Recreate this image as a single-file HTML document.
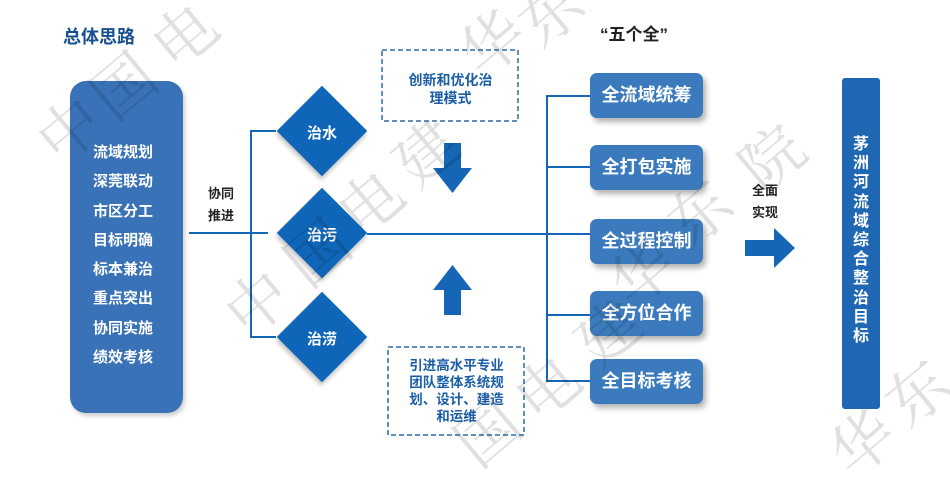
<!DOCTYPE html>
<html><head><meta charset="utf-8"><style>
body{margin:0;width:950px;height:462px;background:#fff;position:relative;overflow:hidden;font-family:"Liberation Sans","Noto Sans CJK SC",sans-serif;font-weight:bold}
.a{position:absolute}
.t{position:absolute;white-space:nowrap}
.rb{position:absolute;left:590px;width:113px;height:45px;background:#3b7bbd;border-radius:7px;color:#fff;font-size:18px;line-height:45px;text-align:center;box-shadow:3px 4px 6px rgba(0,0,0,0.3)}
.d{position:absolute;width:64px;height:64px;background:#0f66b8;transform:rotate(45deg);box-shadow:2px 3px 5px rgba(0,0,0,0.25)}
.dl{position:absolute;width:80px;text-align:center;color:#fff;font-size:15px}
.w{position:absolute;font-size:62px;font-weight:normal;color:rgba(0,0,0,0.12);transform:translate(-50%,-50%) rotate(-40deg);font-family:"Noto Serif CJK SC",serif;z-index:5;line-height:1}
</style></head><body>
<div class="t" style="left:63px;top:23px;font-size:18px;color:#17508f">总体思路</div>
<div class="t" style="left:600px;top:20px;font-size:17px;color:#222">“五个全”</div>

<div class="a" style="left:70px;top:81px;width:113px;height:332px;background:#3a72b8;border-radius:16px;box-shadow:2px 3px 5px rgba(0,0,0,0.2)"></div>
<div class="t" style="left:93px;top:138px;color:#fff;font-size:15px;line-height:29.3px">流域规划<br>深莞联动<br>市区分工<br>目标明确<br>标本兼治<br>重点突出<br>协同实施<br>绩效考核</div>

<div class="t" style="left:208px;top:183px;font-size:13px;line-height:22px;color:#222">协同<br>推进</div>

<svg class="a" style="left:0;top:0" width="950" height="462">
<g stroke="#1567b5" stroke-width="2" fill="none">
<line x1="189" y1="233" x2="268" y2="233"/>
<line x1="251" y1="131" x2="251" y2="337"/>
<line x1="250" y1="131" x2="276" y2="131"/>
<line x1="250" y1="337" x2="276" y2="337"/>
<line x1="367" y1="234" x2="590" y2="234"/>
<line x1="547" y1="96" x2="547" y2="382"/>
<line x1="546" y1="96" x2="590" y2="96"/>
<line x1="546" y1="167" x2="590" y2="167"/>
<line x1="546" y1="315" x2="590" y2="315"/>
<line x1="546" y1="381" x2="590" y2="381"/>
</g>
<g stroke="#2f6aa8" stroke-width="1.5" stroke-dasharray="5,3" fill="none">
<rect x="382" y="50" width="136" height="71"/>
<rect x="388" y="347" width="136" height="88"/>
</g>
<g fill="#1567b5">
<polygon points="444,143 461,143 461,168 472,168 452.5,193 433,168 444,168"/>
<polygon points="444,315 461,315 461,290 472,290 452.5,265 433,290 444,290"/>
<polygon points="745,240 774,240 774,228 795,248 774,268 774,256 745,256"/>
</g>
</svg>

<div class="d" style="left:290px;top:99px"></div>
<div class="d" style="left:290px;top:201px"></div>
<div class="d" style="left:290px;top:305px"></div>
<div class="dl" style="left:282px;top:122px">治水</div>
<div class="dl" style="left:282px;top:224px">治污</div>
<div class="dl" style="left:282px;top:328px">治涝</div>

<div class="t" style="left:382px;top:71px;width:137px;text-align:center;font-size:14px;line-height:18px;color:#1a5ea8">创新和优化治<br>理模式</div>
<div class="t" style="left:388px;top:357px;width:137px;text-align:center;font-size:13.5px;line-height:17px;color:#1a5ea8">引进高水平专业<br>团队整体系统规<br>划、设计、建造<br>和运维</div>

<div class="rb" style="top:73px">全流域统筹</div>
<div class="rb" style="top:145px">全打包实施</div>
<div class="rb" style="top:219px">全过程控制</div>
<div class="rb" style="top:291px">全方位合作</div>
<div class="rb" style="top:359px">全目标考核</div>

<div class="t" style="left:752px;top:180px;font-size:13px;line-height:22px;color:#222">全面<br>实现</div>

<div class="a" style="left:842px;top:78px;width:38px;height:331px;background:#1f67b3;border-radius:3px"></div>
<div class="t" style="left:842px;top:135px;width:38px;text-align:center;color:#fff;font-size:16px;line-height:19.2px">茅<br>洲<br>河<br>流<br>域<br>综<br>合<br>整<br>治<br>目<br>标</div>

<div class="w" style="left:67px;top:127px">中</div>
<div class="w" style="left:121px;top:83px">国</div>
<div class="w" style="left:182px;top:33px">电</div>
<div class="w" style="left:490px;top:40px">华</div>
<div class="w" style="left:548px;top:10px">东</div>
<div class="w" style="left:255px;top:300px">中</div>
<div class="w" style="left:315px;top:250px">国</div>
<div class="w" style="left:368px;top:200px">电</div>
<div class="w" style="left:424px;top:150px">建</div>
<div class="w" style="left:640px;top:270px">华</div>
<div class="w" style="left:697px;top:210px">东</div>
<div class="w" style="left:770px;top:155px">院</div>
<div class="w" style="left:485px;top:430px">国</div>
<div class="w" style="left:545px;top:385px">电</div>
<div class="w" style="left:606px;top:330px">建</div>
<div class="w" style="left:860px;top:440px">华</div>
<div class="w" style="left:915px;top:390px">东</div>
</body></html>
